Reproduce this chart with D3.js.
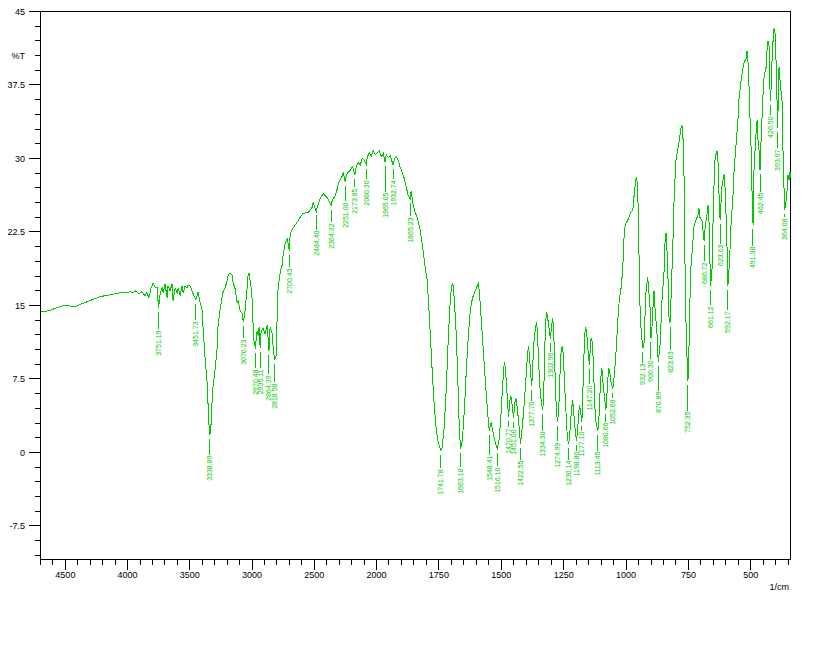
<!DOCTYPE html>
<html><head><meta charset="utf-8">
<script src="https://cdn.jsdelivr.net/npm/d3@7"></script>
<style>body{margin:0;background:#fff}svg{display:block}</style>
</head><body>
<svg id="c" width="830" height="651"></svg>
<script>
const wavenumber=[4700,4663,4623,4583,4543,4503,4478,4446,4414,4382,4342,4302,4261,4221,4181,4141,4101,4061,4021,3981,3957,3933,3909,3885,3861,3845,3829,3819,3811,3795,3779,3763,3751,3739,3723,3715,3699,3683,3675,3659,3643,3635,3618,3602,3594,3578,3562,3554,3538,3522,3514,3498,3482,3474,3452,3442,3434,3418,3402,3394,3378,3362,3354,3346,3339,3330,3322,3314,3298,3282,3274,3258,3242,3234,3216,3200,3192,3177,3160,3152,3136,3120,3112,3096,3080,3070,3056,3040,3032,3024,3007,2999,2991,2983,2970,2967,2959,2951,2943,2935,2927,2911,2895,2879,2864,2855,2839,2831,2819,2807,2799,2791,2775,2759,2751,2734,2718,2700,2694,2678,2670,2638,2614,2590,2549,2517,2509,2484,2477,2453,2429,2396,2364,2356,2348,2332,2316,2308,2292,2276,2268,2251,2243,2227,2211,2195,2187,2174,2163,2147,2131,2115,2099,2080,2075,2059,2043,2027,2010,1997,1989,1981,1973,1965,1961,1953,1945,1933,1929,1921,1913,1905,1897,1889,1881,1873,1865,1861,1853,1845,1837,1825,1813,1805,1797,1792,1784,1776,1768,1760,1752,1742,1737,1728,1720,1712,1704,1700,1696,1692,1688,1680,1672,1668,1663,1656,1648,1640,1632,1624,1616,1608,1600,1592,1588,1584,1576,1568,1560,1552,1548,1544,1540,1536,1528,1520,1516,1508,1500,1496,1488,1483,1479,1475,1471,1467,1463,1459,1455,1451,1447,1443,1439,1431,1423,1415,1407,1399,1395,1391,1387,1383,1378,1374,1371,1363,1359,1355,1351,1343,1334,1330,1326,1322,1318,1314,1310,1303,1298,1294,1290,1286,1282,1278,1275,1270,1266,1263,1259,1255,1251,1247,1239,1235,1230,1226,1222,1218,1214,1210,1206,1199,1194,1190,1186,1182,1177,1174,1170,1166,1162,1158,1154,1147,1142,1138,1134,1130,1126,1122,1113,1109,1105,1101,1097,1093,1085,1081,1077,1073,1069,1065,1061,1053,1049,1045,1041,1037,1033,1029,1025,1021,1017,1013,1009,1005,1001,993,989,981,973,969,961,957,953,949,945,941,937,932,928,925,921,913,909,904,900,896,892,888,884,876,871,868,864,860,856,848,844,840,836,832,828,824,820,812,808,804,800,792,784,780,776,772,768,764,760,756,752,748,744,740,732,728,720,712,708,704,696,692,687,683,675,671,667,663,661,655,651,647,643,635,631,627,623,619,615,607,603,599,595,592,587,583,579,571,567,559,551,547,539,531,527,519,515,511,507,503,499,495,491,487,479,475,471,467,463,459,451,447,439,435,431,427,425,423,420.5,415,411,407,403,399,395,394,391,387,383,379,375,371,367,364,359,355,351,347,343,341];
const transmittance=[14.4,14.4,14.5,14.7,14.9,15.0,15.0,14.9,14.9,15.1,15.3,15.5,15.7,15.9,16.0,16.1,16.2,16.3,16.3,16.4,16.3,16.5,16.2,16.4,16.0,16.3,15.8,16.3,16.8,17.3,16.9,16.8,14.7,16.2,16.8,16.3,17.2,15.8,17.0,16.5,17.2,15.5,16.8,16.2,16.8,16.0,17.0,16.3,17.0,16.8,17.1,17.0,16.5,16.2,15.6,16.0,16.4,15.3,14.5,12.8,9.7,7.3,5.0,2.8,1.8,2.8,5.0,6.6,8.4,10.4,12.8,14.5,15.8,16.3,16.8,17.6,18.1,18.3,18.1,17.3,16.7,15.3,15.5,14.5,14.2,13.3,14.5,16.8,18.1,18.3,16.8,15.5,12.8,11.1,10.6,11.9,12.4,11.9,12.8,10.7,12.4,12.7,12.1,13.0,10.4,12.8,12.2,10.9,9.4,9.9,13.5,16.8,18.3,19.1,20.1,21.4,21.8,20.6,22.3,22.7,22.9,23.5,24.0,24.4,24.5,25.0,25.5,24.6,25.0,25.9,26.4,26.0,25.2,25.7,25.9,26.2,26.9,27.4,27.8,28.2,28.6,27.6,28.3,28.6,28.8,29.2,29.0,28.3,29.2,29.6,29.3,30.0,29.8,29.3,30.1,30.6,30.2,30.8,30.4,30.6,30.8,30.2,30.5,29.6,30.4,30.1,30.3,29.3,29.9,30.2,29.8,29.1,28.6,28.0,27.1,26.2,25.9,26.7,25.2,24.5,24.0,22.7,20.6,18.9,17.6,15.5,11.9,7.9,4.5,2.2,0.9,0.2,0.5,2.8,6.8,11.9,15.7,16.7,17.3,16.9,15.5,11.9,5.8,2.2,0.4,1.2,4.3,8.4,11.9,14.5,15.7,16.3,16.8,17.2,16.5,15.0,11.9,8.9,5.8,3.3,2.2,2.8,3.1,2.4,1.5,0.7,0.4,1.4,4.3,6.3,9.2,8.6,6.8,5.3,3.6,4.8,5.8,5.5,4.5,3.5,4.8,5.5,5.3,3.3,0.9,2.8,5.3,8.4,9.9,10.9,9.9,8.2,6.8,8.4,10.9,12.7,13.3,12.4,9.4,5.8,4.3,5.8,10.4,13.5,14.3,13.7,13.0,11.6,13.0,13.7,12.4,9.4,5.8,4.1,3.1,4.3,6.8,9.4,10.6,10.9,9.9,7.3,3.3,1.4,0.9,1.7,3.3,4.5,5.3,4.3,2.8,1.2,2.2,4.1,4.8,4.1,3.1,5.3,8.9,11.9,12.8,12.4,10.9,8.9,11.4,11.7,10.9,8.4,5.3,3.3,2.2,3.3,5.8,7.7,8.6,7.3,5.3,4.3,5.8,7.5,8.6,8.2,7.3,6.5,7.3,8.6,9.9,11.6,13.5,15.0,16.0,16.5,17.6,18.8,21.6,22.9,23.4,23.7,24.0,24.5,24.7,25.9,27.8,28.0,26.7,21.6,15.5,13.0,11.7,10.7,11.2,13.2,16.2,17.9,16.5,14.8,11.7,12.8,14.8,16.5,14.8,12.1,9.2,9.9,10.9,13.2,15.5,18.3,21.3,22.4,20.6,17.9,13.8,13.2,15.5,21.6,25.4,27.8,29.8,31.0,32.3,33.1,33.4,32.3,28.8,19.6,13.5,9.9,7.3,10.4,15.5,18.9,21.6,23.0,23.7,24.2,24.9,24.0,23.7,22.7,21.6,23.0,24.4,25.2,23.2,18.6,17.0,18.9,24.0,27.8,30.1,30.8,29.5,26.0,23.7,25.7,27.4,28.4,27.0,24.0,20.6,17.0,18.9,20.9,23.4,26.4,28.8,31.5,34.2,36.2,38.0,39.3,39.8,40.2,41.0,39.8,37.2,33.9,31.1,26.4,23.2,29.1,32.6,33.9,31.8,30.8,28.8,31.8,36.6,38.3,39.3,41.0,42.0,41.5,39.3,36.9,35.9,40.0,42.0,43.3,42.8,40.0,35.9,33.1,34.9,39.3,38.0,36.9,35.9,30.8,27.0,24.7,25.7,26.7,28.3,27.8,28.6,28.0];

const peakWavenumber=[3751.19,3451.73,3338.89,3070.23,2970.48,2935.11,2864.39,2818.58,2700.43,2484.40,2364.32,2251.00,2173.85,2080.30,1965.05,1932.74,1865.23,1741.78,1663.18,1548.41,1516.10,1470.77,1451.00,1422.55,1377.70,1334.30,1302.96,1274.99,1230.14,1198.80,1177.10,1147.20,1113.45,1080.66,1052.68,932.13,900.30,870.89,823.63,752.35,686.72,661.12,623.03,592.17,491.38,462.45,420.50,393.97,364.08];
const peakTransmittance=[14.7,15.6,1.8,13.3,10.6,10.7,10.4,9.4,20.6,24.6,25.2,27.6,28.3,29.3,29.6,29.3,25.9,0.2,0.4,2.2,0.4,3.6,3.5,0.9,6.8,4.3,11.6,3.1,0.9,1.2,3.1,8.9,2.2,4.3,6.5,10.7,11.7,9.2,13.2,7.3,21.6,17.0,23.7,17.0,23.2,28.8,35.9,33.1,24.7];
const peakLabelLevel=[12.45,13.37,-0.31,11.53,8.47,8.47,7.86,7.04,18.78,22.65,23.37,25.51,26.94,27.76,26.53,27.76,23.98,-1.73,-1.63,-0.31,-1.53,2.45,2.35,-0.82,5.2,2.14,10.2,1.02,-0.82,0.1,2.14,6.84,0.1,3.06,5.41,9.08,9.39,6.22,10.31,4.18,19.39,14.9,21.22,14.39,21.0,26.53,34.29,30.92,23.88];

const xTickMajor=[4500,4000,3500,3000,2500,2000,1750,1500,1250,1000,750,500];
const xTickLabels=["4500","4000","3500","3000","2500","2000","1750","1500","1250","1000","750","500"];
const yTickMajor=[-7.5,0,7.5,15,22.5,30,37.5,45];
const yTickLabels=["-7.5","0","7.5","15","22.5","30","37.5","45"];

const GREEN="rgb(0,200,0)";
const FONT="Arial, 'Liberation Sans', sans-serif";
const svg=d3.select('#c');
svg.append('rect').attr('width',830).attr('height',651).attr('fill','#fff');

const x=d3.scaleLinear().domain([4700,2000,341]).range([40.5,376.5,790.5]);
const y=d3.scaleLinear().domain([-10.92,45]).range([559.5,11.5]);
const px=v=>Math.round(x(v)-0.5)+0.5;
const py=v=>Math.round(y(v)-0.5)+0.5;

// frame
svg.append('rect').attr('x',40.5).attr('y',11.5).attr('width',750).attr('height',548)
  .attr('fill','none').attr('stroke','#000').attr('stroke-width',1).attr('shape-rendering','crispEdges');

// x ticks
const xMinor=[...d3.range(4700,2000,-100),...d3.range(1950,340,-50)].filter(v=>!xTickMajor.includes(v));
const gx=svg.append('g').attr('stroke','#000').attr('shape-rendering','crispEdges');
xMinor.forEach(v=>gx.append('line').attr('x1',px(v)).attr('x2',px(v)).attr('y1',559.5).attr('y2',564.5));
xTickMajor.forEach(v=>gx.append('line').attr('x1',px(v)).attr('x2',px(v)).attr('y1',559.5).attr('y2',569.5));
svg.append('g').selectAll('text').data(xTickMajor).join('text')
  .attr('x',d=>x(d)).attr('y',578).attr('text-anchor','middle')
  .attr('font-family',FONT).attr('font-size',9).attr('fill','#000')
  .text((d,i)=>xTickLabels[i]);
svg.append('text').attr('x',789).attr('y',590).attr('text-anchor','end')
  .attr('font-family',FONT).attr('font-size',9).attr('fill','#000').text('1/cm');

// y ticks
const yMinor=d3.range(-10.5,45,1.5).filter(v=>!yTickMajor.some(m=>Math.abs(m-v)<1e-6));
const gy=svg.append('g').attr('stroke','#000').attr('shape-rendering','crispEdges');
yMinor.forEach(v=>gy.append('line').attr('x1',35).attr('x2',40.5).attr('y1',py(v)).attr('y2',py(v)));
yTickMajor.forEach(v=>gy.append('line').attr('x1',29).attr('x2',40.5).attr('y1',py(v)).attr('y2',py(v)));
svg.append('g').selectAll('text').data(yTickMajor).join('text')
  .attr('x',25).attr('y',d=>y(d)).attr('dy','0.35em').attr('text-anchor','end')
  .attr('font-family',FONT).attr('font-size',9).attr('fill','#000')
  .text((d,i)=>yTickLabels[i]);
svg.append('text').attr('x',25).attr('y',y(40.5)).attr('dy','0.35em').attr('text-anchor','end')
  .attr('font-family',FONT).attr('font-size',9).attr('fill','#000').text('%T');

// spectrum
const pts=wavenumber.map((w,i)=>[w,transmittance[i]]);
svg.append('path').datum(pts)
  .attr('d',d3.line().x(d=>x(d[0])).y(d=>y(d[1])))
  .attr('fill','none').attr('stroke',GREEN).attr('stroke-width',1)
  .attr('shape-rendering','crispEdges');

// peak labels
const gp=svg.append('g');
peakWavenumber.forEach((w,i)=>{
  const xx=px(w);
  const top=y(peakTransmittance[i])+4;
  const ly=y(peakLabelLevel[i]);
  if(ly-1>top){
    gp.append('line').attr('x1',xx).attr('x2',xx).attr('y1',top).attr('y2',ly-1)
      .attr('stroke',GREEN).attr('stroke-width',1).attr('shape-rendering','crispEdges');
  }
  gp.append('text').attr('transform',`translate(${xx},${ly}) rotate(-90)`)
    .attr('text-anchor','end').attr('dy','0.35em')
    .attr('font-family',FONT).attr('font-size',7).attr('fill',GREEN)
    .text(w.toFixed(2));
});
</script>
</body></html>
